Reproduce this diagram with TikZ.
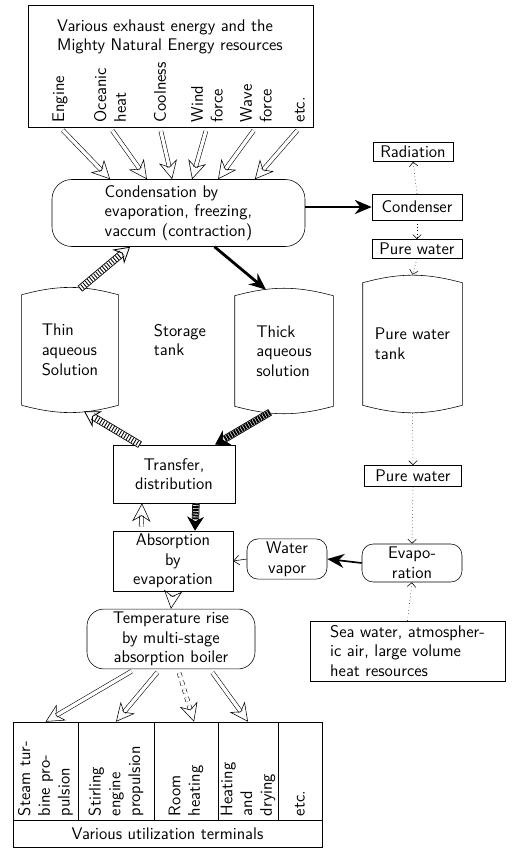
\documentclass[tikz,border=0pt]{standalone}
\usetikzlibrary{arrows.meta}
\tikzset{
  box/.style={draw, font=\sffamily\large, align=center, inner sep=2pt},
  roundbox/.style={box, rounded corners=8pt},
  tankbox/.style={font=\sffamily\large, align=left},
  srclabel/.style={font=\sffamily\large, rotate=90, anchor=west, align=left, inner sep=1pt},
  termcol/.style={draw, font=\sffamily\large, rotate=90, minimum width=24.5mm, text width=22.5mm, align=left, inner sep=1pt},
  hollow/.style={double, double distance=2.4pt, shorten <=1mm, -{Stealth[open, length=13pt, width=13pt, inset=4pt]}},
  hatched/.style={line width=0.6pt, double, double distance=4pt,
    postaction={draw, -, line width=4pt, dash pattern=on 0.6pt off 1.4pt, shorten >=9pt},
    -{Stealth[open, length=11pt, width=13pt]}},
  darkhatch/.style={line width=0.6pt, double, double distance=4pt,
    postaction={draw, -, line width=4pt, dash pattern=on 1.4pt off 0.6pt, shorten >=8pt},
    -{Stealth[length=10pt, width=12pt]}},
  dark/.style={line width=2pt, -{Stealth[length=12pt, width=10pt]}},
  plain/.style={-{Straight Barb[length=4pt, width=7pt]}},
  dots/.style={dotted, -{Straight Barb[length=3pt, width=6pt]}}
}
\begin{document}
\begin{tikzpicture}[x=0.25mm, y=-0.25mm]
  \useasboundingbox (0,0) rectangle (512,849);
  % energy sources
  \node[box, minimum width=71.25mm, minimum height=30.5mm] (src) at (170.5,66) {};
  \node[font=\sffamily\large, align=left] (srchead) at (170,37) {Various exhaust energy and the\\Mighty Natural Energy resources};
  \node[srclabel] (engine) at (60,124) {Engine};
  \node[srclabel] (oceanic) at (110,124) {Oceanic\\heat};
  \node[srclabel] (coolness) at (160,124) {Coolness};
  \node[srclabel] (wind) at (207,124) {Wind\\force};
  \node[srclabel] (wave) at (256,124) {Wave\\force};
  \node[srclabel] (etcsrc) at (300,124) {etc.};
  \node[roundbox, rounded corners=14pt, align=left, minimum width=63.25mm, minimum height=16.75mm] (cond) at (178.5,213) {Condensation by\\evaporation, freezing,\\vaccum (contraction)};
  % storage tank
  \node[tankbox, minimum width=24mm, minimum height=27.5mm] (thin) at (70,350) {Thin\\aqueous\\Solution};
  \node[tankbox, minimum width=24.5mm, minimum height=27.5mm] (thick) at (284,351) {Thick\\aqueous\\solution};
  \node[font=\sffamily\large, align=left] (storage) at (180,340) {Storage\\tank};
  \node[box, minimum width=30.5mm, minimum height=14.5mm] (transfer) at (174,474) {Transfer,\\distribution};
  \node[box, minimum width=30mm, minimum height=14.5mm] (absorb) at (173,561) {Absorption\\by\\evaporation};
  \node[roundbox, rounded corners=12pt, minimum width=42mm, minimum height=12mm] (temp) at (171,639) {Temperature rise\\by multi-stage\\absorption boiler};
  % pure water line
  \node[box, minimum width=20mm, minimum height=4.75mm] (radiation) at (413,152) {Radiation};
  \node[box, minimum width=22.5mm, minimum height=6.5mm] (condenser) at (417,207) {Condenser};
  \node[box, minimum width=22.5mm, minimum height=4.75mm] (pwa) at (417,249) {Pure water};
  \node[tankbox, minimum width=24.75mm, minimum height=30.5mm] (pwtank) at (412.5,344) {Pure water\\tank};
  \node[box, minimum width=24.25mm, minimum height=5.25mm] (pwb) at (413,476) {Pure water};
  \node[roundbox, minimum width=25mm, minimum height=9.5mm] (evap) at (412,563) {Evapo-\\ration};
  \node[roundbox, minimum width=20mm, minimum height=8mm] (vapor) at (287,559) {Water\\vapor};
  \node[box, align=left, minimum width=48.75mm, minimum height=15mm] (sea) at (407.5,651) {Sea water, atmospher-\\ic air, large volume\\heat resources};
  % terminals
  \node[termcol, minimum height=16.25mm] (steam) at (45.5,771) {Steam tur-\\bine pro-\\pulsion};
  \node[termcol, minimum height=19mm] (stirling) at (116,771) {Stirling\\engine\\propulsion};
  \node[termcol, minimum height=16mm] (room) at (186,771) {Room\\heating};
  \node[termcol, minimum height=15mm] (drying) at (248,771) {Heating\\and\\drying};
  \node[termcol, minimum height=11mm] (etcterm) at (300,771) {etc.};
  \node[box, minimum width=77.25mm, minimum height=6.75mm] (terminals) at (167.5,833.5) {Various utilization terminals};
  \foreach \t in {thin,thick,pwtank}
    \draw (\t.north west) to[bend left=15] (\t.north east) -- (\t.south east) to[bend left=15] (\t.south west) -- cycle;
  % connectors
  \draw[hollow] (engine.west |- src.south) -- ([xshift=-17.1mm]cond.north);
  \draw[hollow] (oceanic.west |- src.south) -- ([xshift=-7.9mm]cond.north);
  \draw[hollow] (coolness.west |- src.south) -- ([xshift=-1.6mm]cond.north);
  \draw[hollow] (wind.west |- src.south) -- ([xshift=3.4mm]cond.north);
  \draw[hollow] (wave.west |- src.south) -- ([xshift=9.9mm]cond.north);
  \draw[hollow] (etcsrc.west |- src.south) -- ([xshift=19.1mm]cond.north);
  \draw[dark] (cond.east |- condenser.west) -- (condenser.west);
  \draw[hatched] ([xshift=2.5mm,yshift=1.5mm]thin.north) -- ([xshift=-12.1mm]cond.south);
  \draw[dark] ([xshift=9mm]cond.south) -- ([xshift=-4.5mm,yshift=1.5mm]thick.north);
  \draw[darkhatch] ([xshift=-3.5mm,yshift=-1.5mm]thick.south) -- ([xshift=10.25mm]transfer.north);
  \draw[hatched] ([xshift=-8.5mm]transfer.north) -- ([xshift=3.5mm,yshift=-1.5mm]thin.south);
  \draw[hollow] ([xshift=-8mm]absorb.north) -- ([xshift=-8mm]transfer.south);
  \draw[darkhatch] ([xshift=5.5mm]transfer.south) -- ([xshift=5.5mm]absorb.north);
  \draw[hollow] (absorb.south) -- (temp.north);
  \draw[dots] (condenser.north) -- (radiation.south);
  \draw[dots] (condenser.south) -- (pwa.north);
  \draw[dots] (pwa.south) -- ([yshift=2mm]pwtank.north);
  \draw[dots] ([yshift=-2mm]pwtank.south) -- (pwb.north);
  \draw[dots] (pwb.south) -- (evap.north);
  \draw[dots] (sea.north) -- (evap.south);
  \draw[dark, line width=1.2pt] (evap.west) -- (vapor.east);
  \draw[plain] (vapor.west) -- (absorb.east);
  \draw[hollow] ([xshift=-9mm]temp.south) -- (steam.east);
  \draw[hollow] ([xshift=-2.75mm]temp.south) -- (stirling.east);
  \draw[hollow, dashed] ([xshift=1.75mm]temp.south) -- ([xshift=2mm]room.east);
  \draw[hollow] ([xshift=9.75mm]temp.south) -- (drying.east);
\end{tikzpicture}
\end{document}
